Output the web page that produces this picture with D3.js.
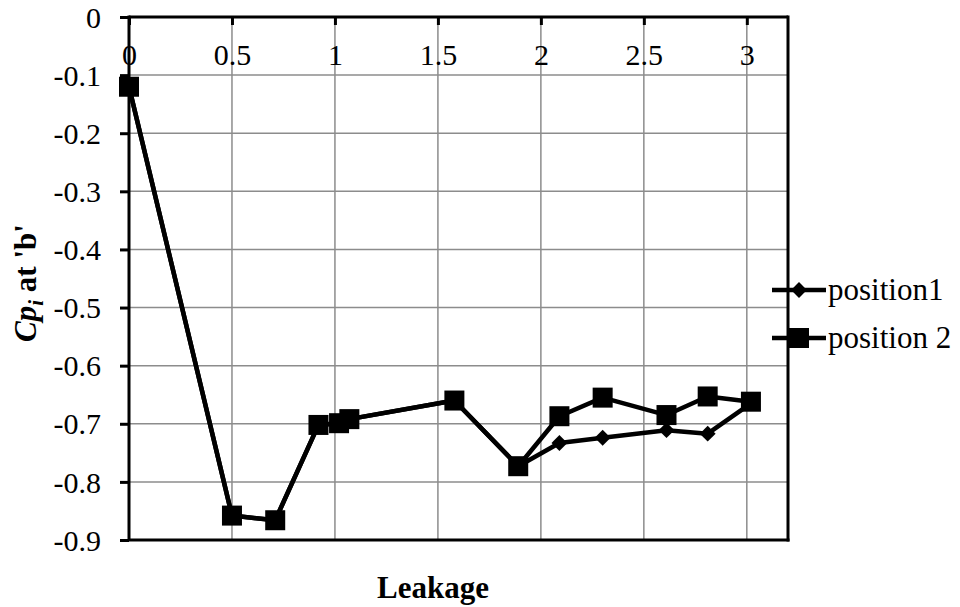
<!DOCTYPE html>
<html><head><meta charset="utf-8">
<script src="https://cdn.jsdelivr.net/npm/d3@7"></script>
<style>body{margin:0;background:#fff} svg text{font-family:"Liberation Serif","DejaVu Serif","Times New Roman",serif !important;} .axis text{font-size:30px;}</style>
</head><body>
<svg id="c" width="960" height="607"></svg>
<script>
const leakage1 = [0, 0.5, 0.71, 0.92, 1.02, 1.07, 1.58, 1.89, 2.09, 2.3, 2.61, 2.81, 3.02];
const position1 = [-0.12, -0.858, -0.866, -0.702, -0.699, -0.692, -0.660, -0.773, -0.733, -0.724, -0.711, -0.717, -0.665];
const leakage2 = [0, 0.5, 0.71, 0.92, 1.02, 1.07, 1.58, 1.89, 2.09, 2.3, 2.61, 2.81, 3.02];
const position2 = [-0.12, -0.858, -0.866, -0.702, -0.699, -0.692, -0.660, -0.773, -0.687, -0.655, -0.685, -0.653, -0.662];
const xTicks = [0, 0.5, 1, 1.5, 2, 2.5, 3];
const yTicks = [0, -0.1, -0.2, -0.3, -0.4, -0.5, -0.6, -0.7, -0.8, -0.9];
const xTickLabels = ["0", "0.5", "1", "1.5", "2", "2.5", "3"];
const yTickLabels = ["0", "-0.1", "-0.2", "-0.3", "-0.4", "-0.5", "-0.6", "-0.7", "-0.8", "-0.9"];
const seriesNames = ["position1", "position 2"];

const svg = d3.select("#c");
const L = 129, R = 788, T = 17, B = 540;
const x = d3.scaleLinear().domain([0, 3.2]).range([L, R]);
const y = d3.scaleLinear().domain([0, -0.9]).range([T, B]);

// gridlines
svg.append("g").selectAll("line.v").data(xTicks.filter(d => d > 0)).join("line")
  .attr("x1", d => x(d)).attr("x2", d => x(d)).attr("y1", T).attr("y2", B)
  .attr("stroke", "#8c8c8c").attr("stroke-width", 1.5);
svg.append("g").selectAll("line.h").data(yTicks.filter(d => d !== 0 && d !== -0.9)).join("line")
  .attr("x1", L).attr("x2", R).attr("y1", d => y(d)).attr("y2", d => y(d))
  .attr("stroke", "#8c8c8c").attr("stroke-width", 1.5);

// plot border right/bottom
svg.append("line").attr("x1", R).attr("x2", R).attr("y1", T - 1.5).attr("y2", B + 1.5).attr("stroke", "#000").attr("stroke-width", 3);
svg.append("line").attr("x1", L).attr("x2", R + 1.5).attr("y1", B).attr("y2", B).attr("stroke", "#000").attr("stroke-width", 3);

// x axis at top (y=0), ticks inward
const xAxis = d3.axisBottom(x).tickValues(xTicks).tickSize(8).tickFormat((d, i) => xTickLabels[i]);
const gx = svg.append("g").attr("class", "axis").attr("transform", `translate(0,${T})`).call(xAxis);
gx.attr("font-size", 30).attr("font-family", "Liberation Serif");
gx.select(".domain").attr("d", `M${L},0H${R}`).attr("stroke-width", 3);
gx.selectAll(".tick line").attr("stroke-width", 3);
gx.selectAll(".tick text").attr("font-size", 30).style("font-size", "30px").attr("fill", "#000").attr("y", 48).attr("dy", null);

// y axis
const yAxis = d3.axisLeft(y).tickValues(yTicks).tickSize(9).tickPadding(19).tickFormat((d, i) => yTickLabels[i]);
const gy = svg.append("g").attr("class", "axis").attr("transform", `translate(${L},0)`).call(yAxis);
gy.attr("font-size", 30).attr("font-family", "Liberation Serif");
gy.select(".domain").attr("d", `M0,${T - 1.5}V${B}`).attr("stroke-width", 3);
gy.selectAll(".tick line").attr("stroke-width", 3);
gy.selectAll(".tick text").attr("font-size", 30).style("font-size", "30px").attr("fill", "#000").attr("dy", "0.34em");

// lines
const line = d3.line().x(d => x(d[0])).y(d => y(d[1]));
const d1 = leakage1.map((v, i) => [v, position1[i]]);
const d2 = leakage2.map((v, i) => [v, position2[i]]);
svg.append("path").datum(d1).attr("d", line).attr("fill", "none").attr("stroke", "#000").attr("stroke-width", 4.5).attr("stroke-linejoin", "round");
svg.append("path").datum(d2).attr("d", line).attr("fill", "none").attr("stroke", "#000").attr("stroke-width", 4.5).attr("stroke-linejoin", "round");

const diamond = d3.symbol().type(d3.symbolDiamond2).size(160);
svg.append("g").selectAll("path").data(d1).join("path")
  .attr("d", diamond).attr("transform", d => `translate(${x(d[0])},${y(d[1])})`).attr("fill", "#000");
svg.append("g").selectAll("rect").data(d2).join("rect")
  .attr("x", d => x(d[0]) - 10).attr("y", d => y(d[1]) - 10).attr("width", 20).attr("height", 20).attr("fill", "#000");

// legend
const lg = svg.append("g");
const ly = [290, 338];
seriesNames.forEach((n, i) => {
  lg.append("line").attr("x1", 772).attr("x2", 826).attr("y1", ly[i]).attr("y2", ly[i]).attr("stroke", "#000").attr("stroke-width", 4.5);
  if (i === 0) lg.append("path").attr("d", diamond).attr("transform", `translate(799,${ly[i]})`).attr("fill", "#000");
  else lg.append("rect").attr("x", 789).attr("y", ly[i] - 10).attr("width", 20).attr("height", 20).attr("fill", "#000");
  lg.append("text").attr("x", 828).attr("y", ly[i]).attr("dy", "0.33em").style("font-size", "31px").text(n);
});

// axis titles
svg.append("text").attr("x", 433).attr("y", 598).attr("text-anchor", "middle")
  .style("font-size", "31px").attr("font-weight", "bold").text("Leakage");
const yt = svg.append("text").attr("transform", "translate(36,283) rotate(-90)").attr("text-anchor", "middle")
  .style("font-size", "31px").attr("font-weight", "bold");
yt.append("tspan").attr("font-style", "italic").text("Cp");
yt.append("tspan").attr("font-style", "italic").style("font-size", "21px").attr("dy", 7).text("i");
yt.append("tspan").attr("dy", -7).text(" at 'b'");
</script>
</body></html>
